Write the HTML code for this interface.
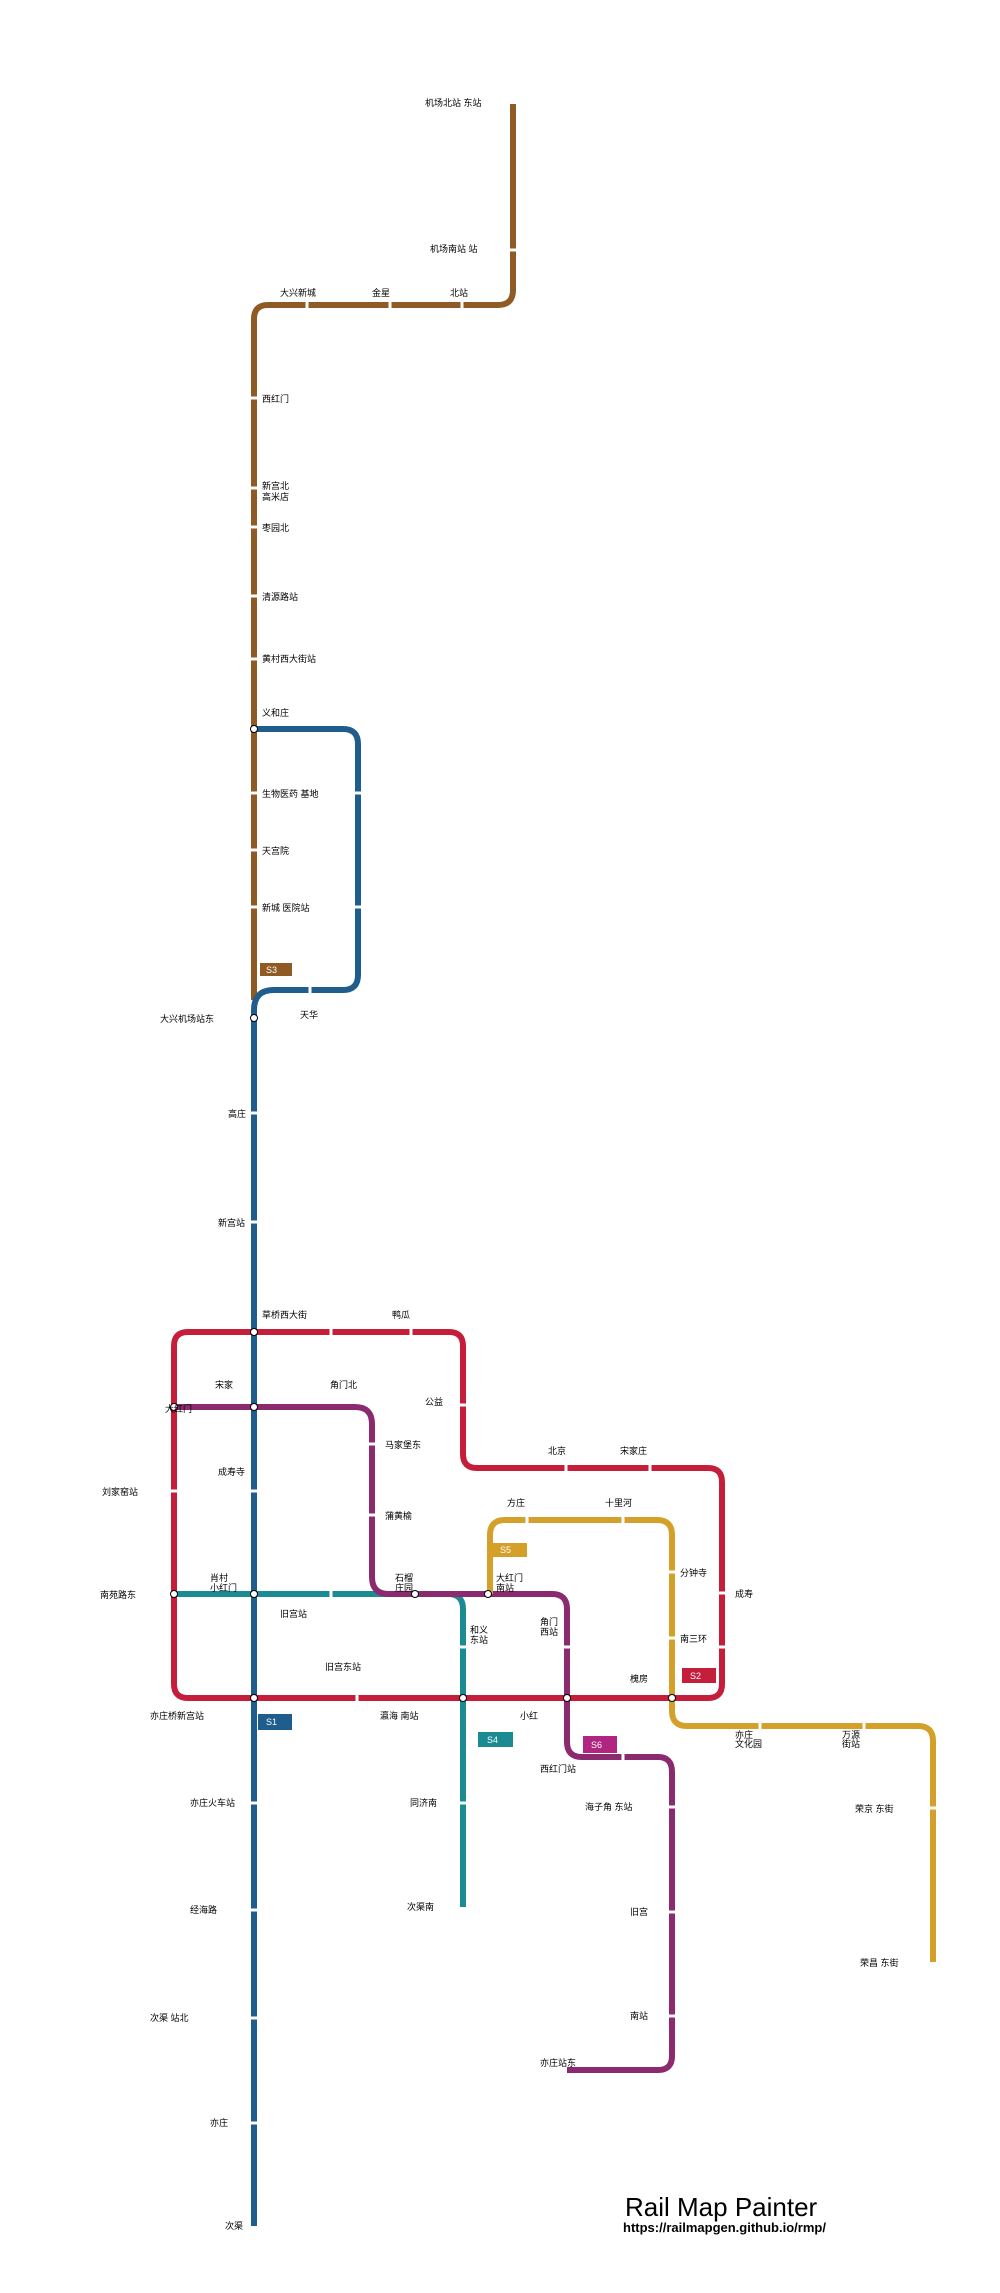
<!DOCTYPE html>
<html><head><meta charset="utf-8"><style>
html,body{margin:0;padding:0;background:#fff}
svg{display:block}
text{font-family:"Liberation Sans","Noto Sans CJK SC",sans-serif;font-size:9px;fill:#000}
.g{stroke:#fff;stroke-width:3}
</style></head><body>
<svg width="1000" height="2293" viewBox="0 0 1000 2293" xmlns="http://www.w3.org/2000/svg">
<g fill="none" stroke-width="6" stroke-linejoin="round">
<path stroke="#8f5a23" d="M513,104 V290 Q513,305 498,305 H268 Q254,305 254,319 V1000"/>
<path stroke="#1f5e8c" d="M254,2226 V1010 Q254,990 274,990 H343 Q358,990 358,975 V744 Q358,729 343,729 H254"/>
<path stroke="#c41e3a" d="M188,1332 H449 Q463,1332 463,1346 V1454 Q463,1468 477,1468 H708 Q722,1468 722,1482 V1684 Q722,1698 708,1698 H188 Q174,1698 174,1684 V1346 Q174,1332 188,1332 Z"/>
<path stroke="#1a8a93" d="M174,1594 H448 Q463,1594 463,1609 V1907"/>
<path stroke="#8b2a6e" d="M174,1407 H355 Q372,1407 372,1424 V1577 Q372,1594 389,1594 H552 Q567,1594 567,1609 V1742 Q567,1757 582,1757 H658 Q672,1757 672,1772 V2056 Q672,2070 658,2070 H567"/>
<path stroke="#d4a02a" d="M490,1594 V1535 Q490,1520 505,1520 H657 Q672,1520 672,1535 V1711 Q672,1726 687,1726 H918 Q933,1726 933,1741 V1962"/>
</g>
<!-- station gaps horizontal lines (vertical ticks) -->
<g class="g">
<line x1="307" y1="300" x2="307" y2="310"/><line x1="390" y1="300" x2="390" y2="310"/><line x1="462" y1="300" x2="462" y2="310"/>
<line x1="310" y1="985" x2="310" y2="995"/>
<line x1="331" y1="1327" x2="331" y2="1337"/><line x1="411" y1="1327" x2="411" y2="1337"/>
<line x1="566" y1="1463" x2="566" y2="1473"/><line x1="650" y1="1463" x2="650" y2="1473"/>
<line x1="357" y1="1693" x2="357" y2="1703"/>
<line x1="331" y1="1589" x2="331" y2="1599"/>
<line x1="527" y1="1515" x2="527" y2="1525"/><line x1="623" y1="1515" x2="623" y2="1525"/>
<line x1="623" y1="1752" x2="623" y2="1762"/>
<line x1="760" y1="1721" x2="760" y2="1731"/><line x1="864" y1="1721" x2="864" y2="1731"/>
</g>
<!-- station gaps vertical lines -->
<g class="g">
<line x1="508" y1="250" x2="518" y2="250"/>
<line x1="249" y1="398" x2="259" y2="398"/><line x1="249" y1="488" x2="259" y2="488"/><line x1="249" y1="527" x2="259" y2="527"/>
<line x1="249" y1="596" x2="259" y2="596"/><line x1="249" y1="659" x2="259" y2="659"/>
<line x1="249" y1="793" x2="259" y2="793"/><line x1="249" y1="850" x2="259" y2="850"/><line x1="249" y1="907" x2="259" y2="907"/>
<line x1="353" y1="793" x2="363" y2="793"/><line x1="353" y1="907" x2="363" y2="907"/>
<line x1="249" y1="1113" x2="259" y2="1113"/><line x1="249" y1="1222" x2="259" y2="1222"/>
<line x1="249" y1="1491" x2="259" y2="1491"/>
<line x1="169" y1="1491" x2="179" y2="1491"/>
<line x1="458" y1="1405" x2="468" y2="1405"/>
<line x1="717" y1="1593" x2="727" y2="1593"/><line x1="717" y1="1647" x2="727" y2="1647"/>
<line x1="367" y1="1444" x2="377" y2="1444"/><line x1="367" y1="1515" x2="377" y2="1515"/>
<line x1="458" y1="1647" x2="468" y2="1647"/><line x1="562" y1="1647" x2="572" y2="1647"/>
<line x1="667" y1="1572" x2="677" y2="1572"/><line x1="667" y1="1638" x2="677" y2="1638"/>
<line x1="249" y1="1803" x2="259" y2="1803"/><line x1="249" y1="1910" x2="259" y2="1910"/><line x1="249" y1="2018" x2="259" y2="2018"/><line x1="249" y1="2123" x2="259" y2="2123"/>
<line x1="458" y1="1803" x2="468" y2="1803"/>
<line x1="667" y1="1807" x2="677" y2="1807"/><line x1="667" y1="1912" x2="677" y2="1912"/><line x1="667" y1="2016" x2="677" y2="2016"/>
<line x1="928" y1="1808" x2="938" y2="1808"/>
</g>
<!-- interchanges -->
<g fill="#fff" stroke="#000" stroke-width="1">
<circle cx="254" cy="729" r="3.5"/><circle cx="254" cy="1018" r="3.5"/>
<circle cx="254" cy="1332" r="3.5"/><circle cx="174" cy="1407" r="3.5"/><circle cx="254" cy="1407" r="3.5"/>
<circle cx="174" cy="1594" r="3.5"/><circle cx="254" cy="1594" r="3.5"/><circle cx="415" cy="1594" r="3.5"/><circle cx="488" cy="1594" r="3.5"/>
<circle cx="254" cy="1698" r="3.5"/><circle cx="463" cy="1698" r="3.5"/><circle cx="567" cy="1698" r="3.5"/><circle cx="672" cy="1698" r="3.5"/>
</g>
<!-- badges -->
<rect x="260" y="963" width="32" height="13" fill="#8f5a23"/><text x="266" y="973" fill="#fff" style="fill:#fff">S3</text>
<rect x="492" y="1543" width="35" height="14" fill="#d4a02a"/><text x="500" y="1553" style="fill:#fff">S5</text>
<rect x="682" y="1668" width="34" height="15" fill="#c41e3a"/><text x="690" y="1679" style="fill:#fff">S2</text>
<rect x="258" y="1714" width="34" height="16" fill="#1f5e8c"/><text x="266" y="1725" style="fill:#fff">S1</text>
<rect x="478" y="1732" width="35" height="15" fill="#1a8a93"/><text x="487" y="1743" style="fill:#fff">S4</text>
<rect x="583" y="1736" width="34" height="17" fill="#b0257f"/><text x="591" y="1748" style="fill:#fff">S6</text>
<!-- labels -->
<g>
<text x="425" y="106">机场北站 东站</text>
<text x="430" y="252">机场南站 站</text>
<text x="280" y="296">大兴新城</text><text x="372" y="296">金星</text><text x="450" y="296">北站</text>
<text x="262" y="402">西红门</text>
<text x="262" y="489">新宫北</text><text x="262" y="500">高米店</text>
<text x="262" y="531">枣园北</text>
<text x="262" y="600">清源路站</text>
<text x="262" y="662">黄村西大街站</text>
<text x="262" y="716">义和庄</text>
<text x="262" y="797">生物医药 基地</text>
<text x="262" y="854">天宫院</text>
<text x="262" y="911">新城 医院站</text>
<text x="160" y="1022">大兴机场站东</text><text x="300" y="1018">天华</text>
<text x="228" y="1117">高庄</text>
<text x="218" y="1226">新宫站</text>
<text x="262" y="1318">草桥西大街</text><text x="392" y="1318">鸭瓜</text>
<text x="215" y="1388">宋家</text><text x="330" y="1388">角门北</text>
<text x="165" y="1412">大红门</text><text x="425" y="1405">公益</text>
<text x="385" y="1448">马家堡东</text>
<text x="218" y="1475">成寿寺</text><text x="102" y="1495">刘家窑站</text>
<text x="385" y="1519">蒲黄榆</text>
<text x="548" y="1454">北京</text><text x="620" y="1454">宋家庄</text>
<text x="507" y="1506">方庄</text><text x="605" y="1506">十里河</text>
<text x="680" y="1576">分钟寺</text><text x="735" y="1597">成寿</text>
<text x="680" y="1642">南三环</text>
<text x="210" y="1581">肖村</text><text x="210" y="1591">小红门</text><text x="100" y="1598">南苑路东</text>
<text x="280" y="1617">旧宫站</text>
<text x="395" y="1581">石榴</text><text x="395" y="1591">庄园</text>
<text x="496" y="1581">大红门</text><text x="496" y="1591">南站</text>
<text x="470" y="1633">和义</text><text x="470" y="1643">东站</text>
<text x="540" y="1625">角门</text><text x="540" y="1635">西站</text>
<text x="325" y="1670">旧宫东站</text>
<text x="630" y="1682">槐房</text>
<text x="150" y="1719">亦庄桥新宫站</text><text x="380" y="1719">瀛海 南站</text><text x="520" y="1719">小红</text>
<text x="540" y="1772">西红门站</text>
<text x="585" y="1810">海子角 东站</text>
<text x="735" y="1738">亦庄</text><text x="735" y="1747">文化园</text>
<text x="842" y="1738">万源</text><text x="842" y="1747">街站</text>
<text x="855" y="1812">荣京 东街</text>
<text x="190" y="1806">亦庄火车站</text><text x="410" y="1806">同济南</text>
<text x="190" y="1913">经海路</text><text x="407" y="1910">次渠南</text>
<text x="150" y="2021">次渠 站北</text>
<text x="210" y="2126">亦庄</text>
<text x="225" y="2229">次渠</text>
<text x="630" y="1915">旧宫</text><text x="630" y="2019">南站</text>
<text x="540" y="2066">亦庄站东</text>
<text x="860" y="1966">荣昌 东街</text>
</g>
<text x="625" y="2216" style="font-size:26px">Rail Map Painter</text>
<text x="623" y="2232" style="font-size:13px;font-weight:bold">https://railmapgen.github.io/rmp/</text>
</svg>
</body></html>
